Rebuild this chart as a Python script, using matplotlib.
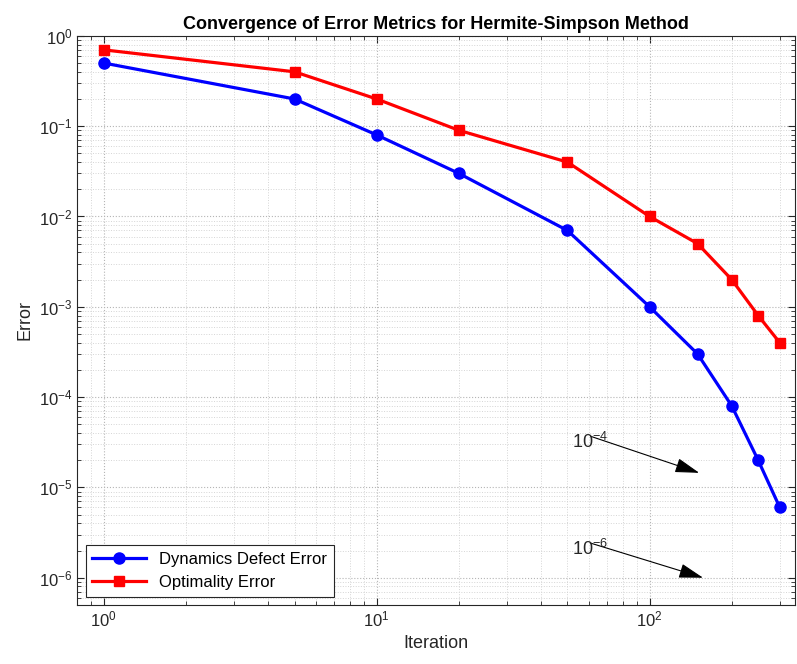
import matplotlib
matplotlib.use("Agg")
import matplotlib.pyplot as plt
from matplotlib.ticker import LogLocator, NullFormatter

plt.rcParams["font.family"] = ["Liberation Sans", "DejaVu Sans"]
plt.rcParams["mathtext.fontset"] = "custom"
plt.rcParams["mathtext.rm"] = "Liberation Sans"
plt.rcParams["mathtext.it"] = "Liberation Sans:italic"
plt.rcParams["mathtext.bf"] = "Liberation Sans:bold"

iterations = [1, 5, 10, 20, 50, 100, 150, 200, 250, 300]
defect_error = [0.5, 0.2, 0.08, 0.03, 0.007, 0.001, 3e-4, 8e-5, 2e-5, 6e-6]
optimality_error = [0.7, 0.4, 0.2, 0.09, 0.04, 0.01, 0.005, 0.002, 8e-4, 4e-4]

# reference slope labels and where their arrows point
ref_labels = [r"$10^{-4}$", r"$10^{-6}$"]
ref_text_pos = [(52, 3.2e-5), (52, 2.1e-6)]
ref_arrow_tip = [(152, 1.45e-5), (157, 1.0e-6)]

TXT = "#262626"


def main():
    fig = plt.figure(figsize=(7.97, 6.64), dpi=100)
    ax = fig.add_axes([0.097, 0.089, 0.900, 0.857])

    ax.loglog(iterations, defect_error, "-o", color="blue", lw=2.3, ms=8,
              label="Dynamics Defect Error")
    ax.loglog(iterations, optimality_error, "-s", color="red", lw=2.3, ms=7,
              label="Optimality Error")

    for lab, tp, tip in zip(ref_labels, ref_text_pos, ref_arrow_tip):
        ax.annotate("", xy=tip, xytext=(tp[0] * 1.17, tp[1] * 1.15),
                    arrowprops=dict(arrowstyle="-|>,head_length=1.5,head_width=0.45",
                                    color="black", lw=0.8, shrinkA=0, shrinkB=0))
        ax.text(tp[0], tp[1], lab, fontsize=13, ha="left", va="center", color=TXT)

    ax.set_xlim(0.8, 340)
    ax.set_ylim(5e-7, 1)
    ax.yaxis.set_major_locator(LogLocator(base=10, numticks=10))
    ax.yaxis.set_minor_locator(LogLocator(base=10, subs=range(2, 10), numticks=20))
    ax.yaxis.set_minor_formatter(NullFormatter())
    ax.xaxis.set_minor_formatter(NullFormatter())

    ax.grid(True, which="major", ls=":", color="#b5b5b5", lw=0.8)
    ax.grid(True, which="minor", ls=":", color="#d5d5d5", lw=0.7)
    ax.tick_params(which="both", direction="in", top=True, right=True,
                   labelsize=12, colors=TXT)
    ax.tick_params(which="major", length=5)
    ax.tick_params(which="minor", length=3)
    for s in ax.spines.values():
        s.set_color(TXT)

    ax.set_xlabel("Iteration", fontsize=13, color=TXT)
    ax.set_ylabel("Error", fontsize=13, color=TXT)
    ax.set_title("Convergence of Error Metrics for Hermite-Simpson Method",
                 fontsize=13, fontweight="bold", pad=5)

    leg = ax.legend(loc="lower left", fontsize=12, fancybox=False,
                    edgecolor=TXT, framealpha=1, handlelength=3.2)
    leg.get_frame().set_linewidth(0.8)

    fig.savefig("out.png", dpi=100)


if __name__ == "__main__":
    main()
